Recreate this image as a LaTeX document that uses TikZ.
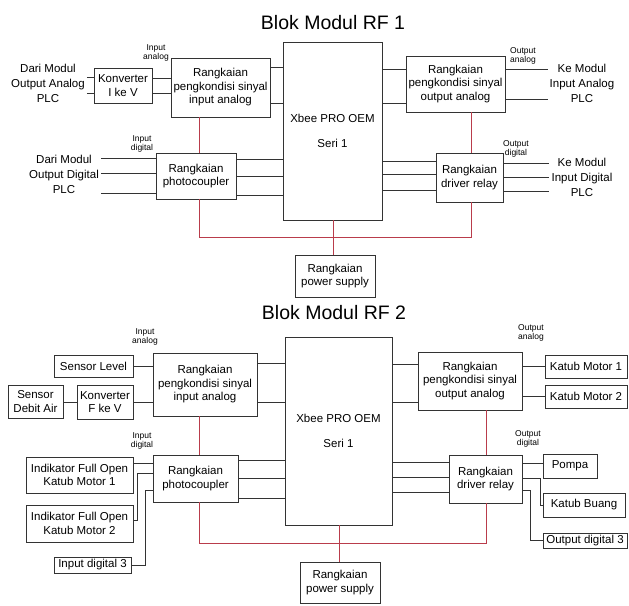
\documentclass[tikz,border=0pt]{standalone}
\usepackage{fontspec}
\setmainfont{Liberation Sans}
\definecolor{merahcatu}{RGB}{185,60,75}
\begin{document}
\begin{tikzpicture}[x=1pt,y=-1pt]

    \tikzset{
      blok/.style={
        draw=black!80,
        line width=0.9pt,
        align=center,
        inner sep=1pt,
        font=\fontsize{11.5}{13.5}\selectfont,
      },
      teks/.style={align=center, inner sep=2pt, font=\fontsize{11.5}{15}\selectfont},
      kecil/.style={align=center, inner sep=0pt, font=\fontsize{8.5}{9.5}\selectfont},
      judul/.style={font=\fontsize{19.5}{22}\selectfont},
      kabel/.style={draw=black!80, line width=0.9pt},
      catu/.style={draw=merahcatu, line width=1pt},
    }
    \useasboundingbox (0,0) rectangle (629,605);

    % Blok Modul RF 1
    \node[judul] (judul1) at (333,23) {Blok Modul RF 1};
    \node[blok, minimum width=99pt, minimum height=178pt] (xb1) at (332.5,131) {Xbee PRO OEM\\[11pt]Seri 1};
    \node[blok, minimum width=99pt, minimum height=59pt] (inA1) at (220.5,87.5) {Rangkaian\\pengkondisi sinyal\\input analog};
    \node[blok, minimum width=58pt, minimum height=35pt] (konv1) at (123,85.5) {Konverter\\I ke V};
    \node[blok, minimum width=80pt, minimum height=46pt] (foto1) at (196,176) {Rangkaian\\photocoupler};
    \node[blok, minimum width=80pt, minimum height=42pt] (ps1) at (335,276) {Rangkaian\\power supply};
    \node[blok, minimum width=99pt, minimum height=56pt] (outA1) at (455.5,84) {Rangkaian\\pengkondisi sinyal\\output analog};
    \node[blok, minimum width=67pt, minimum height=49pt] (drv1) at (469.5,177.5) {Rangkaian\\driver relay};
    \node[teks] (srcA1) at (48,83) {Dari Modul\\Output Analog\\PLC};
    \node[teks] (srcD1) at (64,174) {Dari Modul\\Output Digital\\PLC};
    \node[teks] (tgtA1) at (582,83) {Ke Modul\\Input Analog\\PLC};
    \node[teks] (tgtD1) at (582,177) {Ke Modul\\Input Digital\\PLC};
    \node[kecil] (lblInA1) at (156,53) {Input\\analog};
    \node[kecil] (lblInD1) at (142,144) {Input\\digital};
    \node[kecil] (lblOutA1) at (523,56) {Output\\analog};
    \node[kecil] (lblOutD1) at (516,149) {Output\\digital};

    \foreach \y in {77,93} \draw[kabel] (srcA1.east |- 0,\y) -- (konv1.west |- 0,\y);
    \foreach \y in {78,93} \draw[kabel] (konv1.east |- 0,\y) -- (inA1.west |- 0,\y);
    \foreach \y in {67,103} \draw[kabel] (inA1.east |- 0,\y) -- (xb1.west |- 0,\y);
    \foreach \y in {158,173,193} \draw[kabel] (srcD1.east |- 0,\y) -- (foto1.west |- 0,\y);
    \foreach \y in {159,176,195} \draw[kabel] (foto1.east |- 0,\y) -- (xb1.west |- 0,\y);
    \foreach \y in {69,103} \draw[kabel] (xb1.east |- 0,\y) -- (outA1.west |- 0,\y);
    \foreach \y in {69,99} \draw[kabel] (outA1.east |- 0,\y) -- (tgtA1.west |- 0,\y);
    \foreach \y in {161,174,190} \draw[kabel] (xb1.east |- 0,\y) -- (drv1.west |- 0,\y);
    \foreach \y in {163,177,191} \draw[kabel] (drv1.east |- 0,\y) -- (tgtD1.west |- 0,\y);

    \coordinate (bus1) at (0,237);
    \draw[catu] (inA1.south -| 199,0) -- (foto1.north -| 199,0);
    \draw[catu] (outA1.south -| 471,0) -- (drv1.north -| 471,0);
    \draw[catu] (foto1.south -| 199,0) |- (bus1 -| 471,0) -- (drv1.south -| 471,0);
    \draw[catu] (xb1.south -| 333,0) -- (ps1.north -| 333,0);

    % Blok Modul RF 2
    \node[judul] (judul2) at (334,313) {Blok Modul RF 2};
    \node[blok, minimum width=107pt, minimum height=188pt] (xb2) at (338.5,431) {Xbee PRO OEM\\[11pt]Seri 1};
    \node[blok, minimum width=104pt, minimum height=63pt] (inA2) at (205,384.5) {Rangkaian\\pengkondisi sinyal\\input analog};
    \node[blok, minimum width=79pt, minimum height=22pt] (sensLvl) at (93.5,366) {Sensor Level};
    \node[blok, minimum width=55pt, minimum height=33pt] (sensDebit) at (35.5,401.5) {Sensor\\Debit Air};
    \node[blok, minimum width=56pt, minimum height=34pt] (konv2) at (105,402) {Konverter\\F ke V};
    \node[blok, minimum width=85pt, minimum height=47pt] (foto2) at (195.5,478.5) {Rangkaian\\photocoupler};
    \node[blok, minimum width=107pt, minimum height=36pt] (ind1) at (79.5,475) {Indikator Full Open\\Katub Motor 1};
    \node[blok, minimum width=107pt, minimum height=37pt] (ind2) at (79.5,523.5) {Indikator Full Open\\Katub Motor 2};
    \node[blok, minimum width=77pt, minimum height=16pt] (inD3) at (92.5,565) {Input digital 3};
    \node[blok, minimum width=80pt, minimum height=41pt] (ps2) at (340,582.5) {Rangkaian\\power supply};
    \node[blok, minimum width=104pt, minimum height=58pt] (outA2) at (470,381) {Rangkaian\\pengkondisi sinyal\\output analog};
    \node[blok, minimum width=82pt, minimum height=23pt] (km1) at (586,366.5) {Katub Motor 1};
    \node[blok, minimum width=82pt, minimum height=23pt] (km2) at (586,396.5) {Katub Motor 2};
    \node[blok, minimum width=73pt, minimum height=48pt] (drv2) at (485.5,479) {Rangkaian\\driver relay};
    \node[blok, minimum width=54pt, minimum height=24pt] (pompa) at (570,466) {Pompa};
    \node[blok, minimum width=82pt, minimum height=24pt] (kbuang) at (584,505) {Katub Buang};
    \node[blok, minimum width=84pt, minimum height=15pt] (outD3) at (585,540.5) {Output digital 3};
    \node[kecil] (lblInA2) at (145,337) {Input\\analog};
    \node[kecil] (lblInD2) at (142,441) {Input\\digital};
    \node[kecil] (lblOutA2) at (531,333) {Output\\analog};
    \node[kecil] (lblOutD2) at (528,439) {Output\\digital};

    \draw[kabel] (sensLvl.east) -- (inA2.west |- sensLvl.east);
    \draw[kabel] (sensDebit.east |- 0,402) -- (konv2.west |- 0,402);
    \draw[kabel] (konv2.east |- 0,402) -- (inA2.west |- 0,402);
    \foreach \y in {363,402} \draw[kabel] (inA2.east |- 0,\y) -- (xb2.west |- 0,\y);
    \draw[kabel] (ind1.east |- 0,463) -- (foto2.west |- 0,463);
    \draw[kabel] (ind2.east |- 0,520) -| (137,473) -- (foto2.west |- 0,473);
    \draw[kabel] (inD3.east) -| (145,490) -- (foto2.west |- 0,490);
    \foreach \y in {460,478,498} \draw[kabel] (foto2.east |- 0,\y) -- (xb2.west |- 0,\y);
    \foreach \y in {364,402} \draw[kabel] (xb2.east |- 0,\y) -- (outA2.west |- 0,\y);
    \draw[kabel] (outA2.east |- km1.west) -- (km1.west);
    \draw[kabel] (outA2.east |- km2.west) -- (km2.west);
    \foreach \y in {462,477,492} \draw[kabel] (xb2.east |- 0,\y) -- (drv2.west |- 0,\y);
    \draw[kabel] (drv2.east |- 0,463) -- (pompa.west |- 0,463);
    \draw[kabel] (drv2.east |- 0,478) -| (540,505) -- (kbuang.west |- 0,505);
    \draw[kabel] (drv2.east |- 0,490) -| (530,540) -- (outD3.west |- 0,540);

    \coordinate (bus2) at (0,543);
    \draw[catu] (inA2.south -| 199,0) -- (foto2.north -| 199,0);
    \draw[catu] (outA2.south -| 486,0) -- (drv2.north -| 486,0);
    \draw[catu] (foto2.south -| 199,0) |- (bus2 -| 486,0) -- (drv2.south -| 486,0);
    \draw[catu] (xb2.south -| 339,0) -- (ps2.north -| 339,0);

\end{tikzpicture}
\end{document}
